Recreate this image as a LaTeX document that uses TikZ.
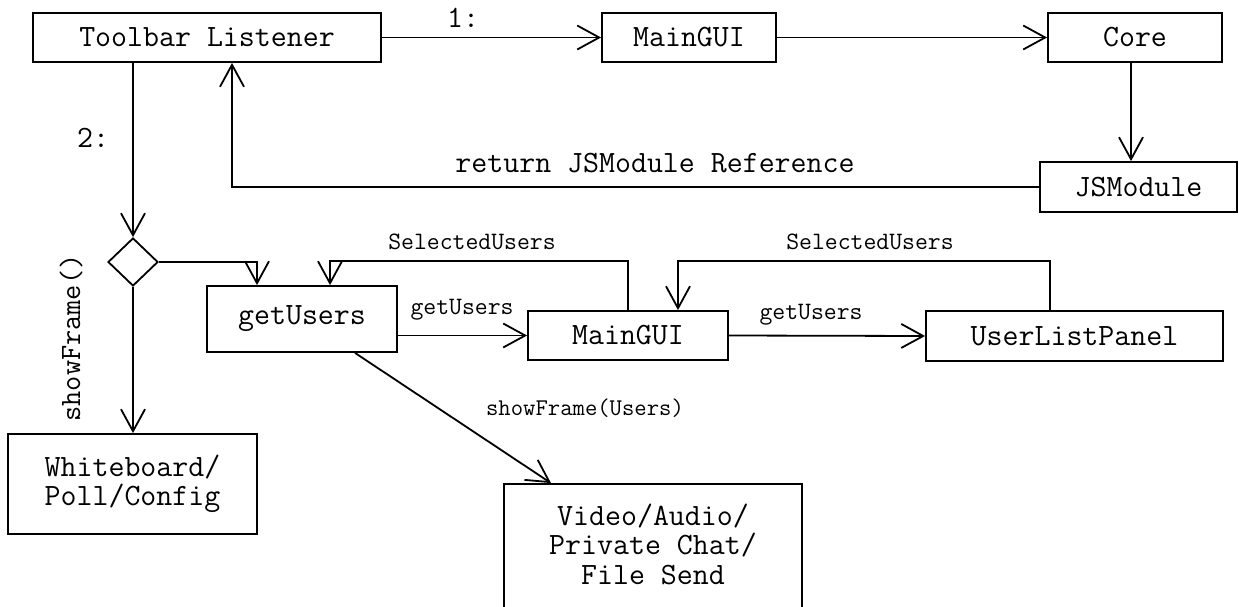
\documentclass[tikz,border=0pt]{standalone}
\usepackage{fontspec}
\usetikzlibrary{arrows.meta,shapes.geometric}
\newcommand\bigtt{\ttfamily\fontsize{31}{29.5}\selectfont}
\newcommand\smalltt{\ttfamily\fontsize{25}{28}\selectfont}
\begin{document}
\begin{tikzpicture}[x=1pt,y=-1pt,
  box/.style={draw, line width=1.8pt, rectangle, inner sep=0pt, font=\bigtt, align=center},
  conn/.style={line width=1.8pt, -{Straight Barb[length=22pt,width=24pt,line width=1.8pt]}},
  lab/.style={inner sep=0pt, font=\smalltt},
  biglab/.style={inner sep=0pt, font=\bigtt}]
\useasboundingbox (0,0) rectangle (1239,607);
\clip (0,0) rectangle (1239,607);

% top row
\node[box, minimum width=348pt, minimum height=49pt] (tl) at (207,37.5) {Toolbar Listener};
\node[box, minimum width=174pt, minimum height=49pt] (mg1) at (689,37.5) {MainGUI};
\node[box, minimum width=174pt, minimum height=49pt] (core) at (1135,37.5) {Core};
\node[box, minimum width=197pt, minimum height=50pt] (js) at (1138.5,187) {JSModule};

% branch
\node[draw, diamond, line width=1.8pt, minimum width=50pt, minimum height=48pt,
      inner sep=0pt, shape aspect=1] (dec) at (133,262) {};

% middle row
\node[box, minimum width=190pt, minimum height=66pt] (gu) at (302,319) {\raisebox{6pt}{getUsers}};
\node[box, minimum width=200pt, minimum height=49pt] (mg2) at (628,335.5) {MainGUI};
\node[box, minimum width=297pt, minimum height=50pt] (ulp) at (1074.5,336) {UserListPanel};

% frames
\node[box, minimum width=249pt, minimum height=100pt] (wb) at (132.5,484) {Whiteboard/\\Poll/Config};
\node[box, minimum width=298pt, minimum height=156pt] (vid) at (653,562) {};
\node[biglab, align=center] (vidtext) at (653,544) {Video/Audio/\\Private Chat/\\File Send};

% connectors
\draw[conn] (tl.east) -- (mg1.west);
\draw[conn] (mg1.east) -- (core.west);
\draw[conn] ([xshift=-4pt]core.south) -- ([xshift=-4pt]core.south |- js.north);
\draw[conn] (js.west) -| ([xshift=25pt]tl.south);
\draw[conn] ([xshift=-74pt]tl.south) -- (dec.north);
\draw[conn] (dec.east) -| ([xshift=-45pt]gu.north);
\draw[conn] (dec.south) -- (dec.south |- wb.north);
\draw[conn] (mg2.north) -- ++(0,-49) -| ([xshift=28pt]gu.north);
\draw[conn] (gu.east |- mg2.west) -- (mg2.west);
\draw[conn] (mg2.east) -- (ulp.west);
\draw[conn] ([xshift=-24.5pt]ulp.north) -- ++(0,-49) -| ([xshift=50pt]mg2.north);
\draw[conn] ([xshift=53pt]gu.south) -- ([xshift=-102pt]vid.north);

% labels
\node[biglab] (l1) at (463,18) {1:};
\node[biglab] (l2) at (93,138) {2:};
\node[biglab] (lret) at (655,163) {return JSModule Reference};
\node[biglab, rotate=90, font=\ttfamily\fontsize{29.5}{30}\selectfont] (lsf) at (71,338) {showFrame()};
\node[lab] (lsel1) at (472,242) {SelectedUsers};
\node[lab] (lsel2) at (870,242) {SelectedUsers};
\node[lab] (lget1) at (462,310) {getUsers};
\node[lab] (lget2) at (811,315) {getUsers};
\node[lab, font=\ttfamily\fontsize{24}{26}\selectfont] (lsfu) at (585,408) {showFrame(Users)};
\end{tikzpicture}
\end{document}
